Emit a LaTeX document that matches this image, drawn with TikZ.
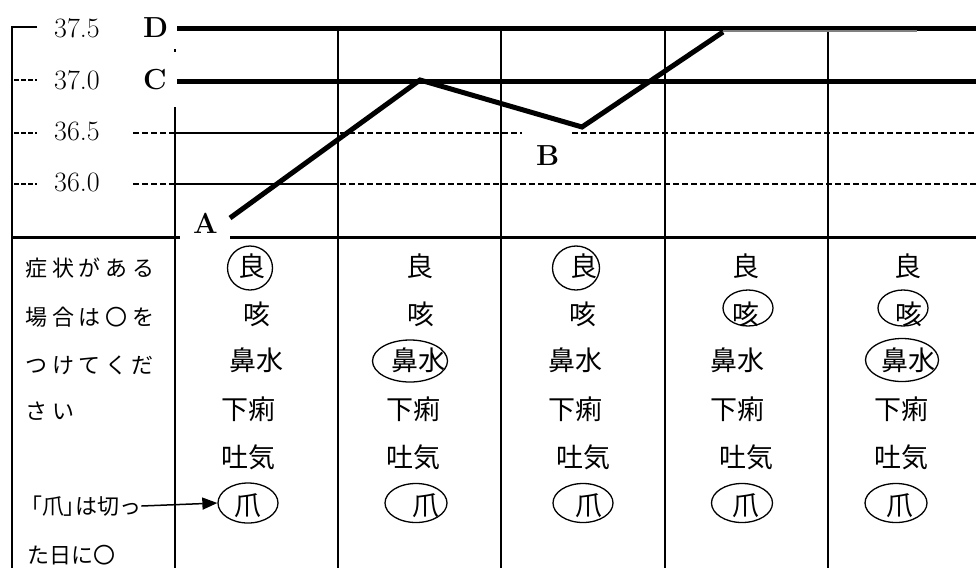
\documentclass[tikz,border=0pt]{standalone}
\usepackage{fontspec}
\usetikzlibrary{shapes.geometric,arrows.meta}
\newfontfamily\jp{Noto Sans CJK JP}
\newfontfamily\jpsp[LetterSpace=22]{Noto Sans CJK JP}
\newfontfamily\jppr[RawFeature=+palt]{Noto Sans CJK JP}

\begin{document}
\begin{tikzpicture}[x=1pt,y=-1pt,
	sym/.style={font=\jp\fontsize{27}{27}\selectfont,inner sep=0pt,text height=23.8pt,text depth=3.2pt},
	note/.style={anchor=west,font=\jpsp\fontsize{22}{22}\selectfont,inner sep=0pt,text height=19.4pt,text depth=2.6pt},
	temp/.style={anchor=base west,inner sep=0pt,font=\fontsize{28}{28}\selectfont},
	lbl/.style={anchor=base west,inner sep=0pt,font=\bfseries\fontsize{29}{29}\selectfont},
	maru/.style={draw,ellipse,line width=1.3pt,inner sep=0pt},
	grid/.style={line width=2.5pt},
	fine/.style={line width=1.5pt,dash pattern=on 6pt off 3pt}]
	\useasboundingbox (0,0) rectangle (976,568);

	% temperature scale
	\draw[line width=2pt] (37,27) -- (12,27) -- (12,568);
	\draw[line width=2pt,dash pattern=on 5pt off 2pt] (14,80) -- (37,80);
	\draw[line width=2pt,dash pattern=on 5pt off 2pt] (14,133) -- (37,133);
	\draw[line width=2pt,dash pattern=on 5pt off 2pt] (14,184) -- (37,184);
	\node[temp] (t375) at (54,37) {37.5};
	\node[temp] (t370) at (54,89) {37.0};
	\node[temp] (t365) at (54,140) {36.5};
	\node[temp] (t360) at (54,191) {36.0};
	\node[lbl] (D) at (143,37) {D};
	\node[lbl] (C) at (143,89) {C};
	\node[lbl] (A) at (193,233) {A};
	\node[lbl] (B) at (536,165) {B};

	% grid
	\draw[line width=5pt] (177,28) -- (976,28);
	\draw[line width=5pt] (177,81) -- (976,81);
	\draw[fine] (133,133) -- (522,133);
	\draw[fine] (572,133) -- (976,133);
	\draw[fine] (133,184) -- (976,184);
	\draw[grid] (175,133) -- (338,133);
	\draw[grid] (175,184) -- (338,184);
	\draw[line width=3pt] (12,237) -- (180,237);
	\draw[line width=3pt] (230,237) -- (976,237);
	\draw[grid] (175,107) -- (175,568);
	\draw[grid] (175,49) -- (175,52);
	\draw[grid] (338,28) -- (338,568);
	\draw[grid] (501,28) -- (501,568);
	\draw[grid] (665,28) -- (665,568);
	\draw[grid] (828,28) -- (828,568);

	% curve
	\draw[line width=5pt] (230,218) -- (420,80) -- (582,127) -- (723,32);
	\draw[gray,line width=1.5pt] (723,31) -- (917,31);

	% left column
	\node[note] (note1) at (25,268) {症状がある};
	\node[note] (note2) at (25,317) {場合は〇を};
	\node[note] (note3) at (25,365) {つけてくだ};
	\node[note] (note4) at (25,411) {さい};
	\node[note,font=\jp\fontsize{22}{22}\selectfont] (note5) at (31,506) {{\jppr 「爪」}は切っ};
	\node[note,font=\jp\fontsize{22}{22}\selectfont] (note6) at (27,555) {た日に〇};

	% column 1
	\node[sym] (ryo1) at (252,266) {良};
	\node[sym] (seki1) at (257,314) {咳};
	\node[sym] (hana1) at (256,360) {鼻水};
	\node[sym] (geri1) at (248,409) {下痢};
	\node[sym] (haki1) at (248,457) {吐気};
	\node[sym] (tsume1) at (248,505) {爪};
	\node[maru,minimum width=45pt,minimum height=44pt] (ryoO1) at (250,268) {};
	\node[maru,minimum width=60pt,minimum height=40pt] (tsumeO1) at (248,503) {};
	\draw[line width=1.5pt,-{Triangle[length=15pt,width=12pt]}] (note5.east) -- (tsumeO1.west);

	% column 2
	\node[sym] (ryo2) at (420,266) {良};
	\node[sym] (seki2) at (421,314) {咳};
	\node[sym] (hana2) at (418,360) {鼻水};
	\node[sym] (geri2) at (413,409) {下痢};
	\node[sym] (haki2) at (413,457) {吐気};
	\node[sym] (tsume2) at (426,505) {爪};
	\node[maru,minimum width=75pt,minimum height=42pt] (hanaO2) at (410,361) {};
	\node[maru,minimum width=62pt,minimum height=39pt] (tsumeO2) at (416,503) {};

	% column 3
	\node[sym] (ryo3) at (584,266) {良};
	\node[sym] (seki3) at (583,314) {咳};
	\node[sym] (hana3) at (575,360) {鼻水};
	\node[sym] (geri3) at (575,409) {下痢};
	\node[sym] (haki3) at (583,457) {吐気};
	\node[sym] (tsume3) at (589,505) {爪};
	\node[maru,minimum width=47pt,minimum height=44pt] (ryoO3) at (576,268) {};
	\node[maru,minimum width=60pt,minimum height=39pt] (tsumeO3) at (583,503) {};

	% column 4
	\node[sym] (ryo4) at (746,266) {良};
	\node[sym] (seki4) at (746,314) {咳};
	\node[sym] (hana4) at (737,360) {鼻水};
	\node[sym] (geri4) at (737,409) {下痢};
	\node[sym] (haki4) at (746,457) {吐気};
	\node[sym] (tsume4) at (746,505) {爪};
	\node[maru,minimum width=50pt,minimum height=36pt] (sekiO4) at (748,308) {};
	\node[maru,minimum width=61pt,minimum height=39pt] (tsumeO4) at (742,503) {};

	% column 5
	\node[sym] (ryo5) at (908,266) {良};
	\node[sym] (seki5) at (909,314) {咳};
	\node[sym] (hana5) at (908,360) {鼻水};
	\node[sym] (geri5) at (901,409) {下痢};
	\node[sym] (haki5) at (901,457) {吐気};
	\node[sym] (tsume5) at (900,505) {爪};
	\node[maru,minimum width=50pt,minimum height=36pt] (sekiO5) at (903,308) {};
	\node[maru,minimum width=73pt,minimum height=43pt] (hanaO5) at (902,360) {};
	\node[maru,minimum width=62pt,minimum height=39pt] (tsumeO5) at (896,503) {};
\end{tikzpicture}
\end{document}
